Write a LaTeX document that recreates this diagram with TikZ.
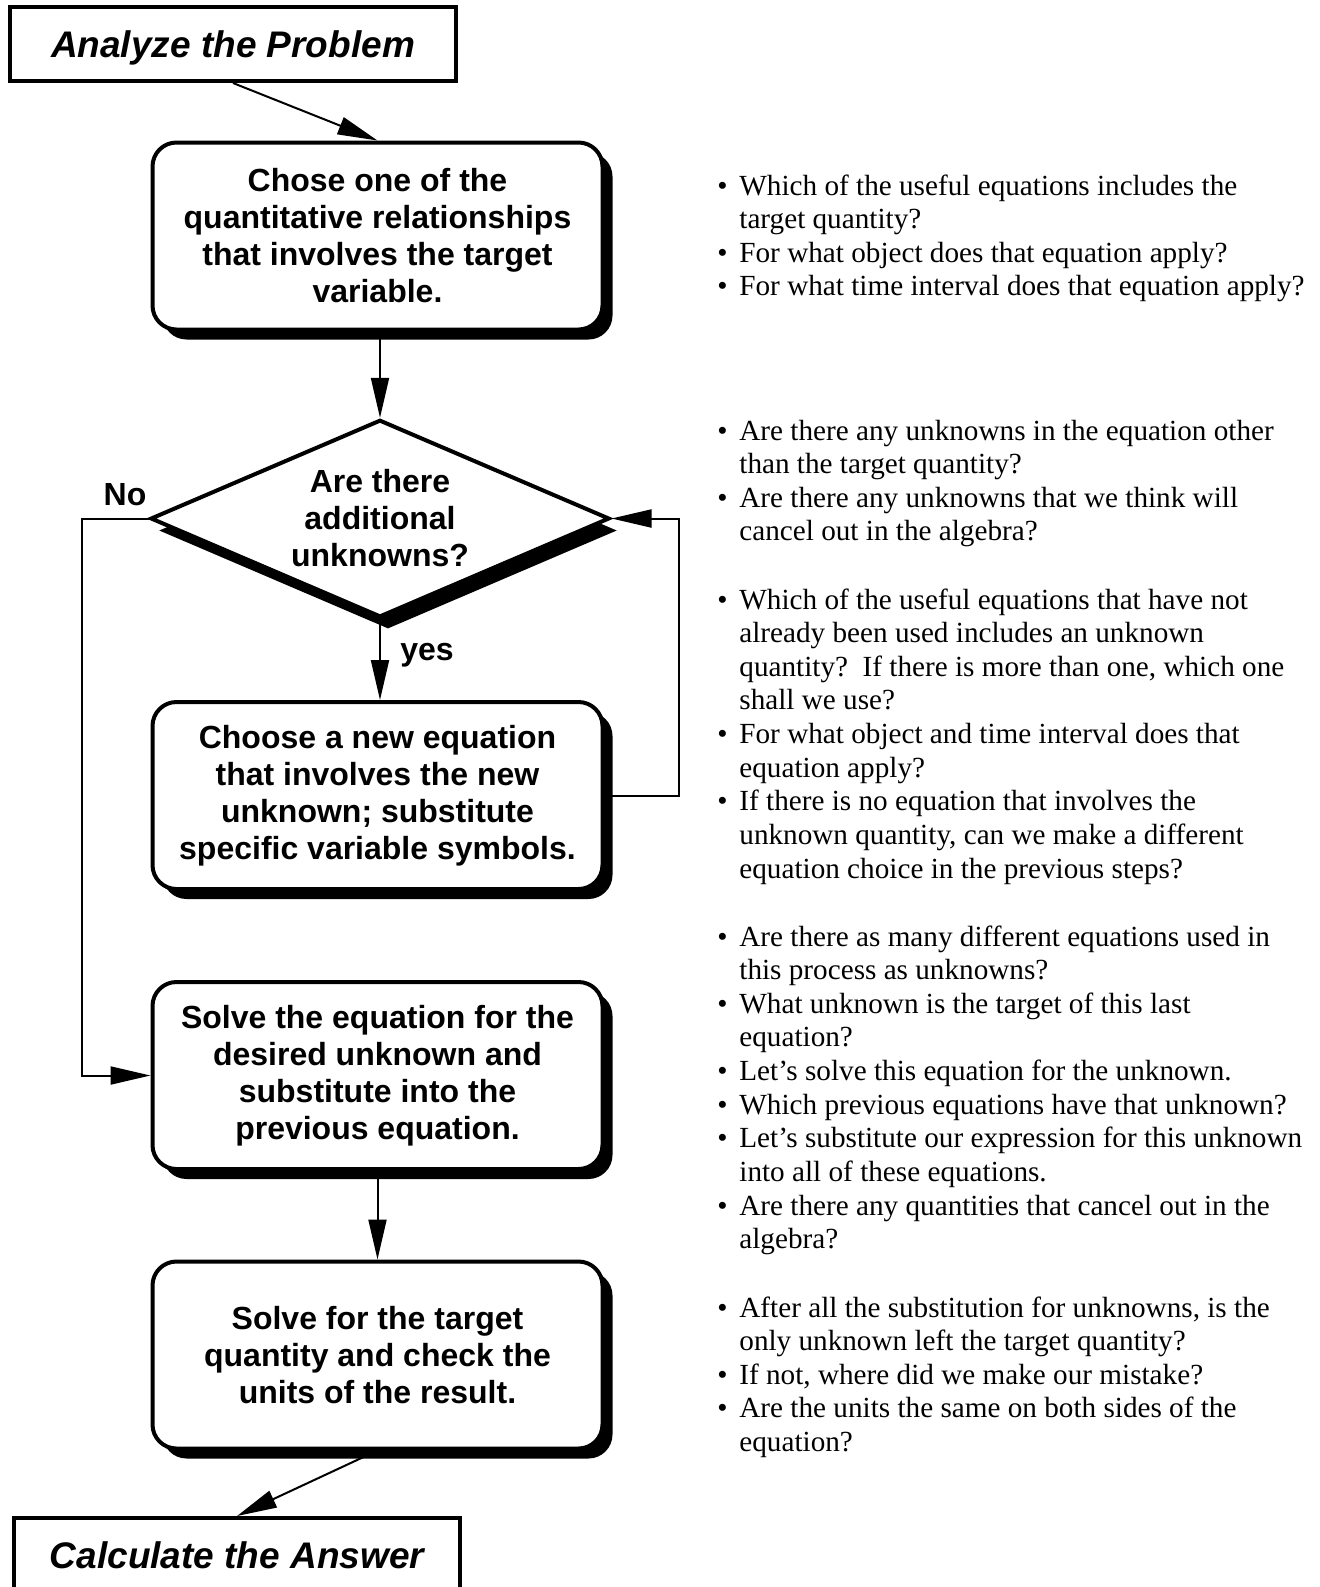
\documentclass[tikz,border=0pt]{standalone}
\usepackage{fontspec}
\setmainfont{Liberation Serif}
\newfontfamily\hvfont{Liberation Sans}
\usetikzlibrary{arrows.meta,shapes.geometric,shadows}
\tikzset{
  titlebox/.style={draw, line width=2pt, rectangle, fill=white, minimum width=223pt, minimum height=37pt, inner sep=0pt, text height=13.5pt, text depth=0pt, font=\hvfont\bfseries\itshape\fontsize{18.5}{22}\selectfont},
  stepbox/.style={draw, line width=2pt, rounded corners=12pt, fill=white, minimum width=225pt, minimum height=93.5pt, inner sep=0pt, align=center, font=\hvfont\bfseries\fontsize{16}{18.5}\selectfont, drop shadow={shadow xshift=5pt, shadow yshift=-5pt, fill=black, opacity=1}},
  decbox/.style={draw, diamond, line width=2pt, fill=white, aspect=2.34, minimum width=229.5pt, minimum height=98.7pt, inner sep=0pt, align=center, font=\hvfont\bfseries\fontsize{16}{18.5}\selectfont, drop shadow={shadow xshift=4pt, shadow yshift=-6pt, fill=black, opacity=1}},
  arr/.style={line width=1pt, -{Triangle[length=20pt,width=9pt]}},
  lbl/.style={font=\hvfont\bfseries\fontsize{16}{18.5}\selectfont, inner sep=0pt},
  notes/.style={anchor=base west, inner sep=0pt, font=\fontsize{14.6}{16.83}\selectfont},
}
\begin{document}
\begin{tikzpicture}[x=0.5pt,y=-0.5pt]
\useasboundingbox (0,0) rectangle (1319,1587);

\node[titlebox] (top) at (233,44) {Analyze the Problem};
\node[stepbox] (box1) at (377.5,236) {Chose one of the\\quantitative relationships\\that involves the target\\variable.};
\node[decbox] (dia) at (380,518.5) {Are there\\additional\\unknowns?};
\node[stepbox] (box2) at (377.5,795.5) {Choose a new equation\\that involves the new\\unknown; substitute\\specific variable symbols.};
\node[stepbox] (box3) at (377.5,1075.5) {Solve the equation for the\\desired unknown and\\substitute into the\\previous equation.};
\node[stepbox] (box4) at (377.5,1355) {Solve for the target\\quantity and check the\\units of the result.};
\node[titlebox] (bot) at (237,1555) {Calculate the Answer};

\node[lbl] (nolbl) at (125,495) {No};
\node[lbl] (yeslbl) at (427,655) {yes};

\coordinate (nL) at (82,518.5);
\coordinate (nR) at (679,518.5);

\draw[arr] (top.south) -- (box1.north);
\draw[arr] (dia.north |- box1.south) -- (dia.north);
\draw[arr] (dia.south) -- (dia.south |- box2.north);
\draw[arr] (box2.east) -| (nR) -- (dia.east);
\draw[arr] (dia.west) -- (nL) |- (box3.west);
\draw[arr] (box3.south) -- (box4.north);
\draw[arr] (box4.south) -- (bot.north);

\node[notes] (g1) at (717,195) {\begin{tabular}[t]{@{}p{11pt}@{}l@{}}
\textbullet & Which of the useful equations includes the\\
 & target quantity?\\
\textbullet & For what object does that equation apply?\\
\textbullet & For what time interval does that equation apply?
\end{tabular}};

\node[notes] (g2) at (717,440) {\begin{tabular}[t]{@{}p{11pt}@{}l@{}}
\textbullet & Are there any unknowns in the equation other\\
 & than the target quantity?\\
\textbullet & Are there any unknowns that we think will\\
 & cancel out in the algebra?
\end{tabular}};

\node[notes] (g3) at (717,609) {\begin{tabular}[t]{@{}p{11pt}@{}l@{}}
\textbullet & Which of the useful equations that have not\\
 & already been used includes an unknown\\
 & quantity?\ \ If there is more than one, which one\\
 & shall we use?\\
\textbullet & For what object and time interval does that\\
 & equation apply?\\
\textbullet & If there is no equation that involves the\\
 & unknown quantity, can we make a different\\
 & equation choice in the previous steps?
\end{tabular}};

\node[notes] (g4) at (717,946) {\begin{tabular}[t]{@{}p{11pt}@{}l@{}}
\textbullet & Are there as many different equations used in\\
 & this process as unknowns?\\
\textbullet & What unknown is the target of this last\\
 & equation?\\
\textbullet & Let’s solve this equation for the unknown.\\
\textbullet & Which previous equations have that unknown?\\
\textbullet & Let’s substitute our expression for this unknown\\
 & into all of these equations.\\
\textbullet & Are there any quantities that cancel out in the\\
 & algebra?
\end{tabular}};

\node[notes] (g5) at (717,1317) {\begin{tabular}[t]{@{}p{11pt}@{}l@{}}
\textbullet & After all the substitution for unknowns, is the\\
 & only unknown left the target quantity?\\
\textbullet & If not, where did we make our mistake?\\
\textbullet & Are the units the same on both sides of the\\
 & equation?
\end{tabular}};
\end{tikzpicture}
\end{document}
